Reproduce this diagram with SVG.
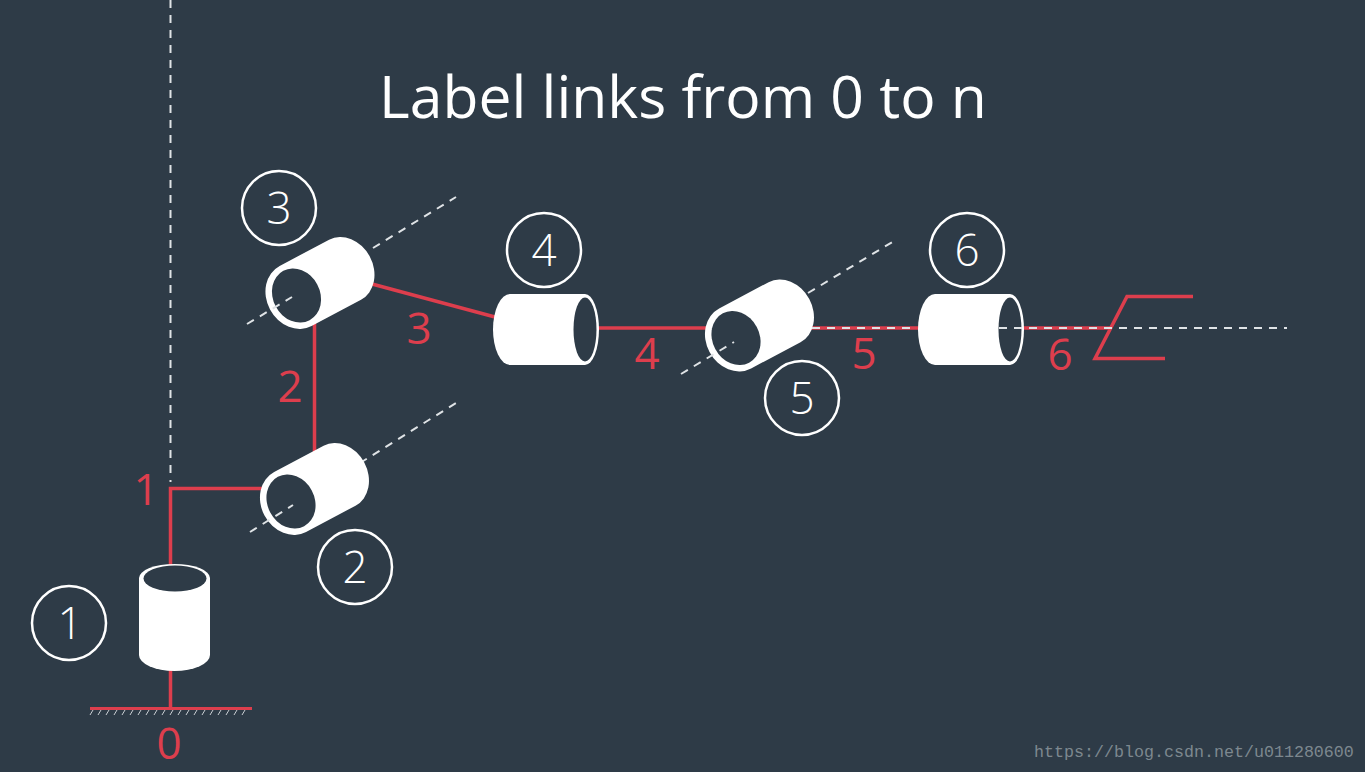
<svg xmlns="http://www.w3.org/2000/svg" xmlns:xlink="http://www.w3.org/1999/xlink" width="1365" height="772" viewBox="0 0 1365 772">
<style>
.link{fill:none;stroke:#dd3e4d;stroke-width:3.5;stroke-linejoin:miter}
.ground{fill:none;stroke:#dd3e4d;stroke-width:3}
.axis{fill:none;stroke:#dfe3e6;stroke-width:2;stroke-dasharray:8 7}
.hatch{fill:none;stroke:#c9ced2;stroke-width:1}
.ring{fill:none;stroke:#fff;stroke-width:2.500}
.body{fill:#fff}
.hole{fill:#2e3b47}
text{font-family:"Open Sans","Liberation Sans",sans-serif;text-anchor:middle}
.num{font-size:44px;fill:#fff;font-weight:300}
.lab{font-size:44px;fill:#dd3e4d;font-weight:400}
.title{font-size:58.800px;fill:#fff}
.mark{font-family:"Liberation Mono",monospace;font-size:16.67px;fill:#7d888f;text-anchor:start}
</style>
<defs>
<g id="tilted">
<path class="body" d="M-1,-34L55,-34A28,34 0 0 1 55,34L-1,34A29,34 0 0 1 -1,-34Z"/>
<ellipse class="hole" cx="0" cy="0" rx="23.500" ry="28"/>
</g>
<g id="flat">
<path class="body" d="M17,0L92,0A14,35.500 0 0 1 92,71L17,71A17,35.500 0 0 1 17,0Z"/>
<ellipse class="hole" cx="92" cy="35.500" rx="11.500" ry="32"/>
</g>
</defs>
<rect width="1365" height="772" fill="#2e3b47"/>
<text class="title" x="683" y="118">Label links from 0 to n</text>
<g id="connectors">
<path class="axis" d="M170.500,0V482"/>
<path class="axis" d="M360,463L456,403"/>
<path class="axis" d="M373,248L456,197"/>
<path class="axis" d="M808,293L894,241"/>
<path class="link" d="M170.500,707V670M170.500,566V488.500H263"/>
<path class="ground" d="M90,708.500H252"/>
<path class="hatch" d="M90,715l3,-5M98,715l3,-5M106,715l3,-5M114,715l3,-5M122,715l3,-5M130,715l3,-5M138,715l3,-5M146,715l3,-5M154,715l3,-5M162,715l3,-5M170,715l3,-5M178,715l3,-5M186,715l3,-5M194,715l3,-5M202,715l3,-5M210,715l3,-5M218,715l3,-5M226,715l3,-5M234,715l3,-5M242,715l3,-5"/>
<path class="link" d="M314.500,323V452"/>
<path class="link" d="M372,284L495,317"/>
<path class="link" d="M597,328H708"/>
<path class="link" d="M810,328H919"/>
<path class="link" d="M1023,328H1110"/>
<path class="link" d="M1193,296.500H1127L1095,358.500H1165"/>
</g>
<g id="joint1">
<path class="body" d="M139,578A35.500,14 0 0 1 210,578V655A35.500,16 0 0 1 139,655Z"/>
<ellipse class="hole" cx="175" cy="578.500" rx="31.500" ry="13"/>
<circle class="ring" cx="69" cy="623" r="37"/>
<text class="num" x="70" y="639">1</text>
</g>
<g id="joint2">
<use xlink:href="#tilted" href="#tilted" transform="translate(291,501.500) rotate(-28)"/>
<path class="axis" d="M250,532L293,505"/>
<circle class="ring" cx="355" cy="567" r="37"/>
<text class="num" x="355" y="583">2</text>
</g>
<g id="joint3">
<use xlink:href="#tilted" href="#tilted" transform="translate(296.500,295.500) rotate(-28)"/>
<path class="axis" d="M247,324L292,297"/>
<circle class="ring" cx="279" cy="208" r="37"/>
<text class="num" x="279" y="224">3</text>
</g>
<g id="joint4">
<use xlink:href="#flat" href="#flat" transform="translate(493,294)"/>
<circle class="ring" cx="544" cy="250" r="37"/>
<text class="num" x="544" y="266">4</text>
</g>
<g id="joint5">
<use xlink:href="#tilted" href="#tilted" transform="translate(736,338) rotate(-28)"/>
<path class="axis" d="M681,374L734,342"/>
<circle class="ring" cx="802" cy="398" r="37"/>
<text class="num" x="802" y="414">5</text>
</g>
<g id="joint6">
<use xlink:href="#flat" href="#flat" transform="translate(918,294)"/>
<circle class="ring" cx="967" cy="250" r="37"/>
<text class="num" x="967" y="266">6</text>
</g>
<g id="axis-horizontal">
<path class="axis" d="M812,328H917M999,328H1287"/>
</g>
<g id="link-labels">
<text class="lab" x="169" y="759">0</text>
<text class="lab" x="146" y="505">1</text>
<text class="lab" x="290" y="402">2</text>
<text class="lab" x="419" y="344">3</text>
<text class="lab" x="647" y="369">4</text>
<text class="lab" x="864" y="369">5</text>
<text class="lab" x="1060" y="370">6</text>
</g>
<text class="mark" x="1034" y="757">https://blog.csdn.net/u011280600</text>
</svg>
